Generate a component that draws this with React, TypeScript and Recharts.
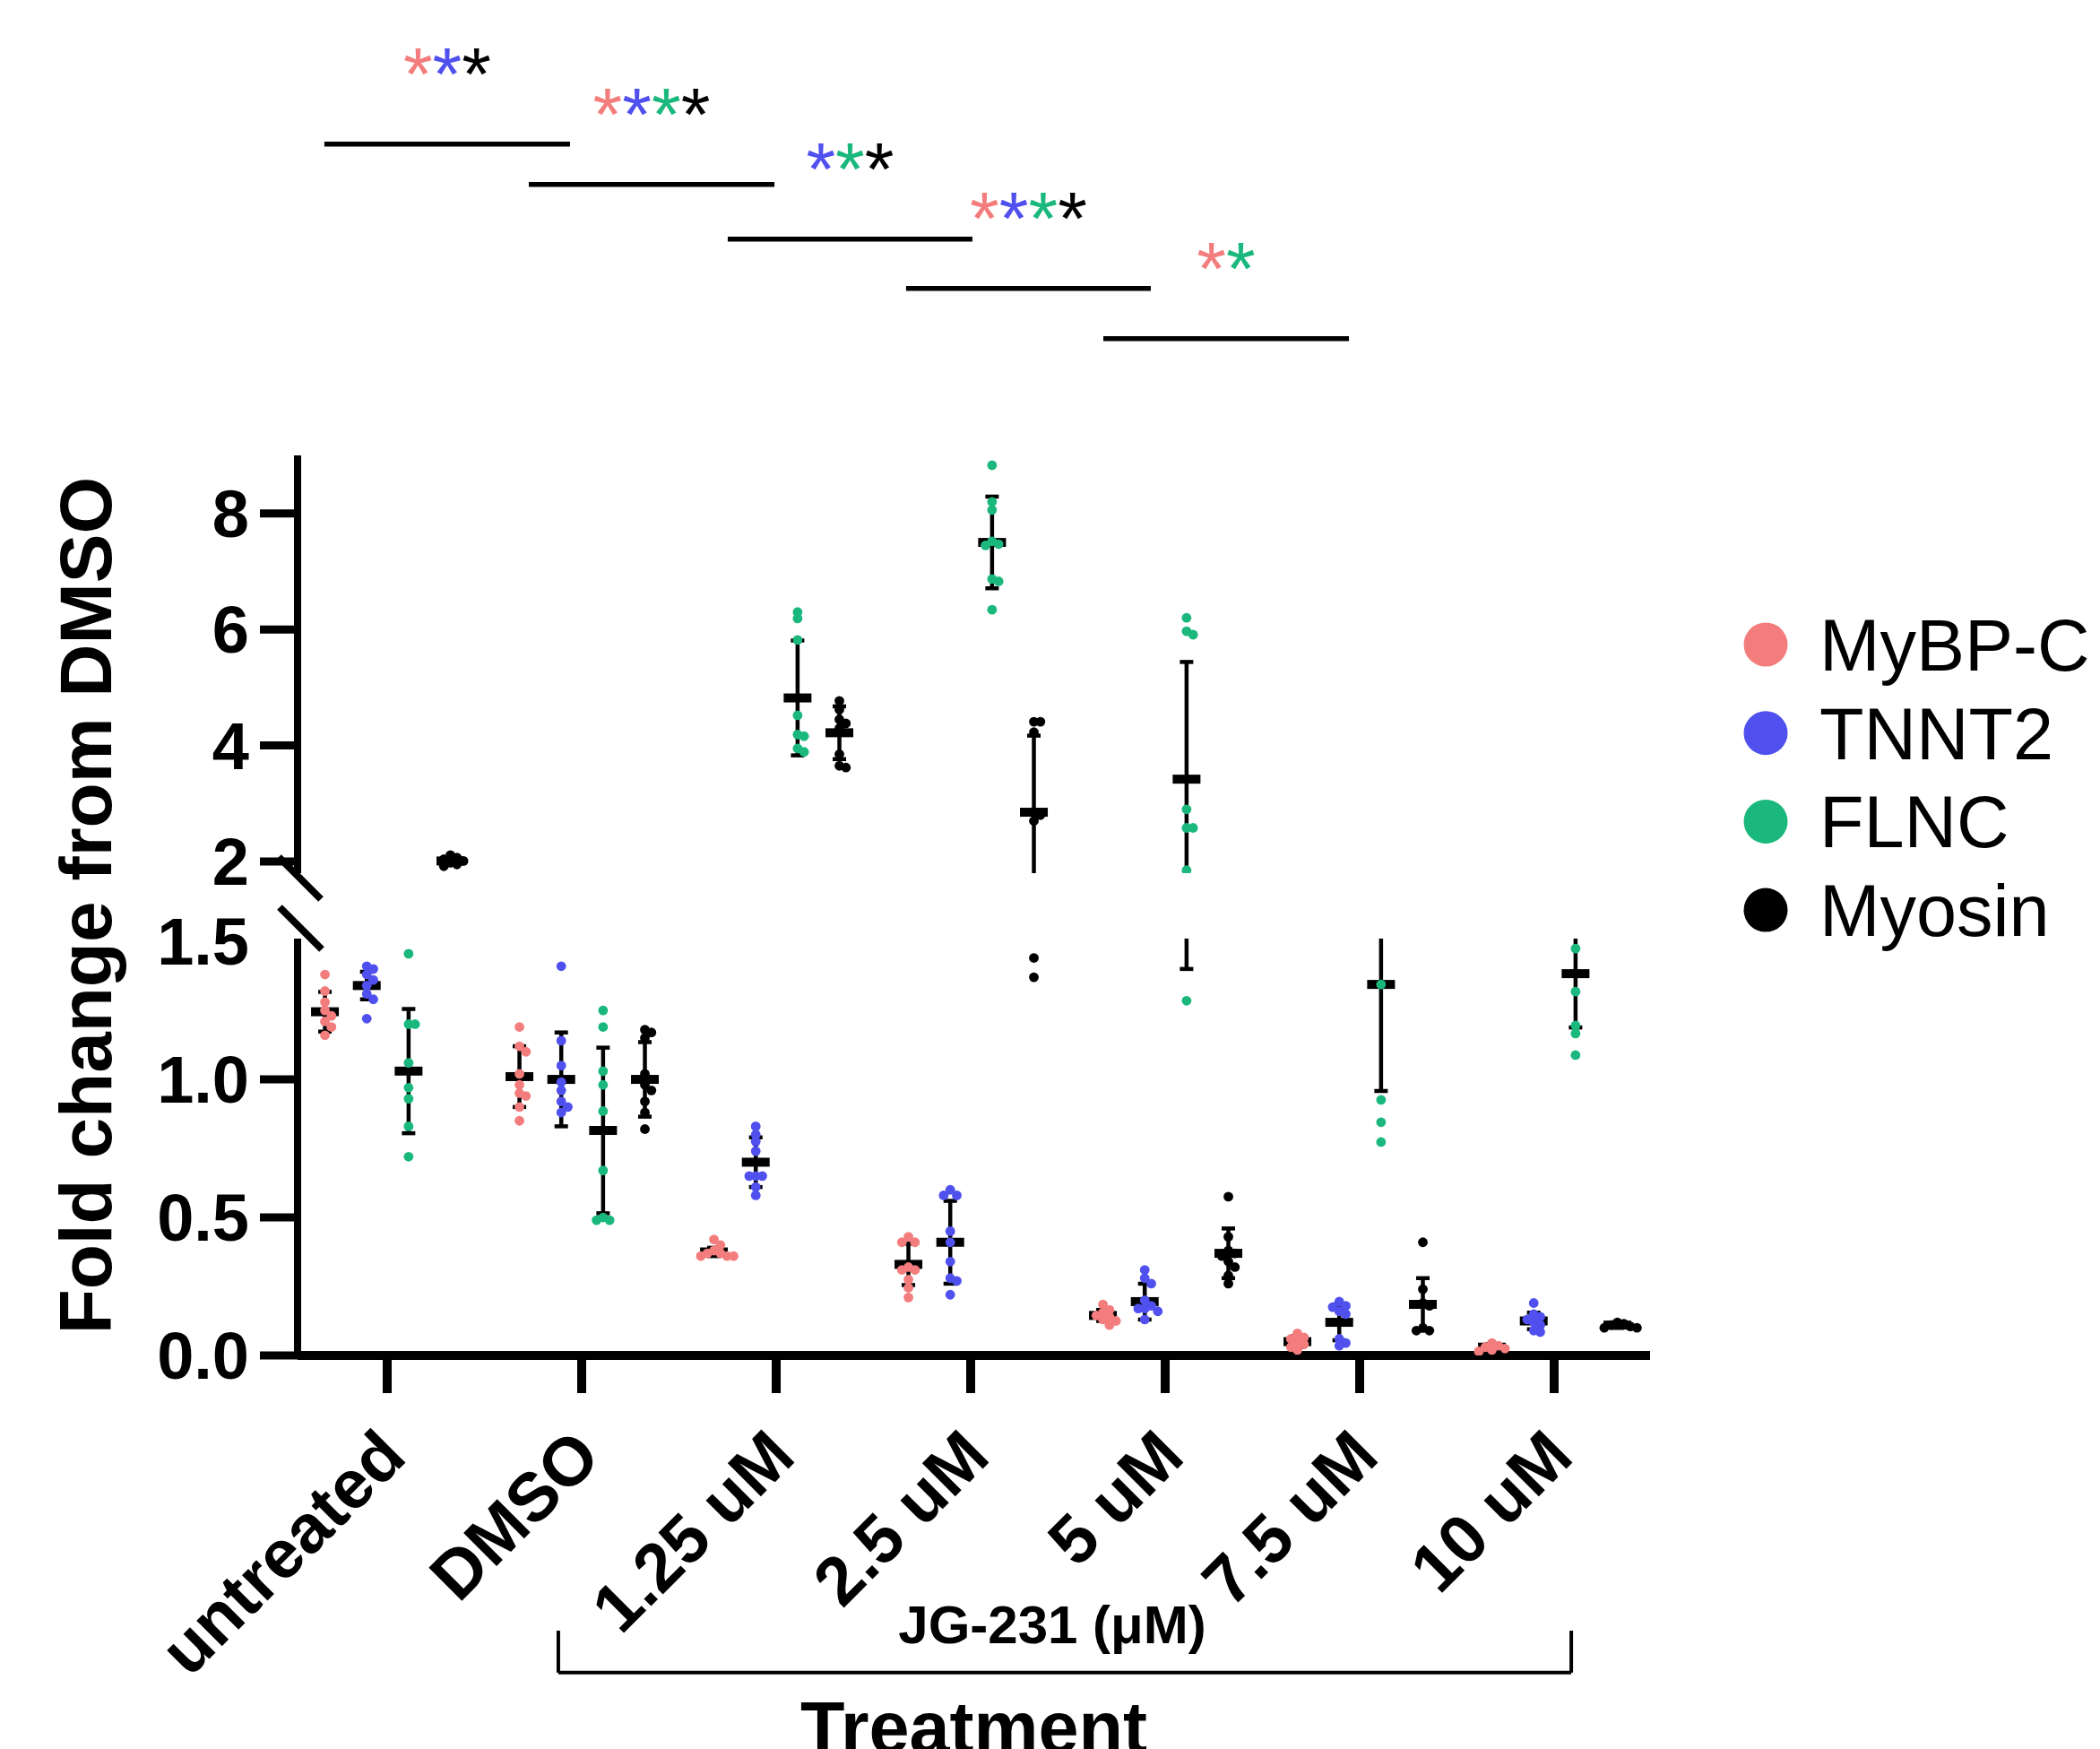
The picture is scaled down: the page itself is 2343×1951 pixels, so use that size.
import React from 'react';
import { ComposedChart, Scatter, XAxis, YAxis, ReferenceLine, ReferenceDot, Legend, Label } from 'recharts';

// ---------------- data ----------------
const CATEGORIES = ['untreated', 'DMSO', '1.25 uM', '2.5 uM', '5 uM', '7.5 uM', '10 uM'];
const CATEGORY_POSITIONS = [0, 1, 2, 3, 4, 5, 6];
const SERIES_NAMES = ['MyBP-C', 'TNNT2', 'FLNC', 'Myosin'];
const SERIES_COLORS = ['#F37D7D', '#5050EE', '#1AB87D', '#000000'];
const SERIES_OFFSETS = [-0.32, -0.105, 0.11, 0.325];

const MYBPC_POINTS = [
  [1.38, 1.32, 1.28, 1.25, 1.23, 1.21, 1.19, 1.16],
  [1.19, 1.12, 1.1, 1.02, 0.98, 0.95, 0.94, 0.9, 0.85],
  [0.42, 0.4, 0.38, 0.37, 0.37, 0.36, 0.36, 0.36],
  [0.43, 0.41, 0.41, 0.32, 0.31, 0.31, 0.275, 0.245, 0.21],
  [0.185, 0.165, 0.155, 0.145, 0.14, 0.13, 0.125, 0.11],
  [0.08, 0.065, 0.06, 0.05, 0.04, 0.03, 0.02],
  [0.045, 0.035, 0.03, 0.025, 0.02, 0.015],
];
const MYBPC_MEAN = [1.245, 1.01, 0.375, 0.33, 0.145, 0.05, 0.03];
const MYBPC_SD = [0.072, 0.11, 0.015, 0.075, 0.02, 0.02, 0.01];

const TNNT2_POINTS = [
  [1.41, 1.4, 1.38, 1.36, 1.34, 1.31, 1.29, 1.22],
  [1.41, 1.14, 1.05, 0.99, 0.96, 0.92, 0.9, 0.88],
  [0.83, 0.8, 0.775, 0.74, 0.65, 0.65, 0.65, 0.61, 0.58],
  [0.6, 0.58, 0.58, 0.45, 0.41, 0.34, 0.28, 0.27, 0.22],
  [0.31, 0.28, 0.26, 0.2, 0.18, 0.17, 0.17, 0.16, 0.13],
  [0.195, 0.18, 0.175, 0.16, 0.15, 0.06, 0.045, 0.035],
  [0.19, 0.15, 0.14, 0.13, 0.12, 0.11, 0.09, 0.085],
];
const TNNT2_MEAN = [1.34, 1.0, 0.7, 0.41, 0.195, 0.12, 0.125];
const TNNT2_SD = [0.05, 0.17, 0.09, 0.15, 0.065, 0.065, 0.03];

const FLNC_POINTS = [
  [1.455, 1.2, 1.2, 1.06, 0.97, 0.93, 0.83, 0.72],
  [1.25, 1.19, 1.03, 0.98, 0.885, 0.67, 0.5, 0.49, 0.49],
  [6.3, 6.19, 5.82, 4.52, 4.19, 4.16, 3.95, 3.89],
  [8.83, 8.2, 8.06, 7.52, 7.47, 7.45, 6.87, 6.83, 6.34],
  [6.2, 5.97, 5.91, 2.9, 2.58, 2.58, 1.85, 1.285],
  [1.344, 0.926, 0.845, 0.773],
  [1.474, 1.318, 1.195, 1.166, 1.088],
];
const FLNC_MEAN = [1.03, 0.815, 4.82, 7.5, 3.42, 1.344, 1.383];
const FLNC_SD = [0.225, 0.3, 0.99, 0.79, 2.02, 0.386, 0.195];

const MYOSIN_POINTS = [
  [2.11, 2.07, 2.04, 2.01, 1.98, 1.95, 1.92],
  [1.18, 1.17, 1.15, 1.02, 0.98, 0.96, 0.92, 0.88, 0.82],
  [4.77, 4.62, 4.45, 4.38, 4.3, 3.85, 3.65, 3.62],
  [4.41, 4.41, 4.23, 2.85, 2.8, 2.7, 1.44, 1.37],
  [0.575, 0.43, 0.38, 0.37, 0.36, 0.34, 0.32, 0.29, 0.26],
  [0.41, 0.24, 0.19, 0.18, 0.1, 0.09, 0.09],
  [0.12, 0.115, 0.11, 0.105, 0.1, 0.1],
];
const MYOSIN_MEAN = [2.01, 1.0, 4.22, 2.85, 0.37, 0.185, 0.11];
const MYOSIN_SD = [0.06, 0.135, 0.455, 1.32, 0.09, 0.095, 0.01];

const LOWER_TICKS = [0, 0.5, 1.0, 1.5];
const UPPER_TICKS = [2, 4, 6, 8];

// significance comparisons (drawn above the upper panel)
const COMPARISON_START = [-0.323, 0.728, 1.751, 2.668, 3.682];
const COMPARISON_END = [0.94, 1.991, 3.009, 3.926, 4.945];
const COMPARISON_LEVEL = [14.365, 13.669, 12.726, 11.876, 11.011];
const COMPARISON_STARS = [
  ['MyBP-C', 'TNNT2', 'Myosin'],
  ['MyBP-C', 'TNNT2', 'FLNC', 'Myosin'],
  ['TNNT2', 'FLNC', 'Myosin'],
  ['MyBP-C', 'TNNT2', 'FLNC', 'Myosin'],
  ['MyBP-C', 'FLNC'],
];
const STAR_RISE = 1.5;

// JG-231 bracket under the axis (lower-panel data units)
const BRACKET_FROM = 0.88;
const BRACKET_TO = 6.088;
const BRACKET_BOTTOM = -1.149;
const BRACKET_TOP = -0.997;
const BRACKET_LABEL = 'JG-231 (μM)';
const X_TITLE = 'Treatment';
const Y_TITLE = 'Fold change from DMSO';

// ---------------- layout ----------------
const W = 2343;
const H = 1951;
const FONT = '"Liberation Sans", Arial, Helvetica, sans-serif';
const PLOT_LEFT = 332;
const PLOT_RIGHT = 1841;
const X_DOMAIN: [number, number] = [-0.4608, 6.4931];
const UPPER_DOMAIN: [number, number] = [1.8, 9.0];
const UPPER_TOP = 508;
const UPPER_BOTTOM = 974;
const LOWER_DOMAIN: [number, number] = [0, 1.51];
const LOWER_TOP = 1047;
const LOWER_BOTTOM = 1512;
const Y_TICK_LEN = 42;
const Y_TICK_MARGIN = 12;
const SPLIT = 1.65;
const DOT_R = 5.4;
const CAP_HALF_PX = 7.5;

const PX_PER_X = (PLOT_RIGHT - PLOT_LEFT) / (X_DOMAIN[1] - X_DOMAIN[0]);
const UPPER_PX_PER_Y = (UPPER_BOTTOM - UPPER_TOP) / (UPPER_DOMAIN[1] - UPPER_DOMAIN[0]);
const LOWER_PX_PER_Y = (LOWER_BOTTOM - LOWER_TOP) / (LOWER_DOMAIN[1] - LOWER_DOMAIN[0]);
const CAP_HALF = CAP_HALF_PX / PX_PER_X;

const ALL_POINTS = [MYBPC_POINTS, TNNT2_POINTS, FLNC_POINTS, MYOSIN_POINTS];
const ALL_MEANS = [MYBPC_MEAN, TNNT2_MEAN, FLNC_MEAN, MYOSIN_MEAN];
const ALL_SDS = [MYBPC_SD, TNNT2_SD, FLNC_SD, MYOSIN_SD];

// deterministic beeswarm: spreads overlapping dots sideways (dots may overlap partly)
function swarmOffsets(values: number[], pxPerY: number): number[] {
  const step = DOT_R * 1.35;
  const minDist = DOT_R * 1.2;
  const placed: { dx: number; y: number }[] = [];
  return values.map((v) => {
    const y = v * pxPerY;
    for (let k = 0; k < 30; k++) {
      const cand = k === 0 ? 0 : (k % 2 === 1 ? (k + 1) / 2 : -k / 2) * step;
      if (placed.every((p) => Math.hypot(p.dx - cand, p.y - y) >= minDist)) {
        placed.push({ dx: cand, y });
        return cand;
      }
    }
    return 0;
  });
}

function panelPoints(s: number, upper: boolean) {
  const pxY = upper ? UPPER_PX_PER_Y : LOWER_PX_PER_Y;
  const out: { x: number; y: number }[] = [];
  ALL_POINTS[s].forEach((vals, ci) => {
    const sel = vals.filter((v) => (upper ? v >= SPLIT : v < SPLIT));
    const offs = swarmOffsets(sel, pxY);
    sel.forEach((v, k) => {
      out.push({ x: CATEGORY_POSITIONS[ci] + SERIES_OFFSETS[s] + offs[k] / PX_PER_X, y: v });
    });
  });
  return out;
}

function meanData(s: number) {
  return CATEGORIES.map((_, ci) => ({
    x: CATEGORY_POSITIONS[ci] + SERIES_OFFSETS[s],
    y: ALL_MEANS[s][ci],
    lo: ALL_MEANS[s][ci] - ALL_SDS[s][ci],
    hi: ALL_MEANS[s][ci] + ALL_SDS[s][ci],
  }));
}

const MeanShape = (p: any) => (
  <rect x={p.cx - 15.5} y={p.cy - 5} width={31} height={10} fill="#000" />
);
const dotShape = (color: string) => (p: any) => (
  <circle cx={p.cx} cy={p.cy} r={DOT_R} fill={color} />
);

// SD bars as clipped reference segments (clipped to each panel's plot area)
function renderErrorBars() {
  const out: React.ReactNode[] = [];
  SERIES_NAMES.forEach((name, s) => {
    meanData(s).forEach((d, ci) => {
      const k = `${name}-${ci}`;
      out.push(
        <ReferenceLine
          key={`v-${k}`}
          segment={[{ x: d.x, y: d.lo }, { x: d.x, y: d.hi }]}
          stroke="#000"
          strokeWidth={4.5}
          ifOverflow="hidden"
        />,
        <ReferenceLine
          key={`l-${k}`}
          segment={[{ x: d.x - CAP_HALF, y: d.lo }, { x: d.x + CAP_HALF, y: d.lo }]}
          stroke="#000"
          strokeWidth={4.5}
          ifOverflow="hidden"
        />,
        <ReferenceLine
          key={`h-${k}`}
          segment={[{ x: d.x - CAP_HALF, y: d.hi }, { x: d.x + CAP_HALF, y: d.hi }]}
          stroke="#000"
          strokeWidth={4.5}
          ifOverflow="hidden"
        />
      );
    });
  });
  return out;
}

function renderSeries(upper: boolean) {
  const means = SERIES_NAMES.map((name, s) => (
    <Scatter
      key={`mean-${name}`}
      name={`${name} mean`}
      data={meanData(s)}
      dataKey="y"
      shape={MeanShape}
      isAnimationActive={false}
      legendType="none"
    />
  ));
  const points = SERIES_NAMES.map((name, s) => (
    <Scatter
      key={`pts-${name}`}
      name={name}
      data={panelPoints(s, upper)}
      dataKey="y"
      fill={SERIES_COLORS[s]}
      shape={dotShape(SERIES_COLORS[s])}
      isAnimationActive={false}
    />
  ));
  return [...renderErrorBars(), ...means, ...points];
}

// ---------------- axis pieces ----------------
const XTick = (p: any) => {
  const ax = p.x + 24;
  const ay = p.y + 72;
  return (
    <text
      x={ax}
      y={ay}
      transform={`rotate(-45 ${ax} ${ay})`}
      textAnchor="end"
      fontFamily={FONT}
      fontWeight={700}
      fontSize={76}
      fill="#000"
    >
      {CATEGORIES[Math.round(p.payload.value)]}
    </text>
  );
};

const makeYTick = (fmt: (v: number) => string, noLine: number[]) => (p: any) => {
  const v = p.payload.value;
  return (
    <g>
      {!noLine.includes(v) && (
        <line x1={PLOT_LEFT - Y_TICK_LEN} x2={PLOT_LEFT} y1={p.y} y2={p.y} stroke="#000" strokeWidth={9} />
      )}
      <text x={p.x} y={p.y} dy="0.355em" textAnchor="end" fontFamily={FONT} fontWeight={700} fontSize={74} fill="#000">
        {fmt(v)}
      </text>
    </g>
  );
};
const UpperYTick = makeYTick((v) => String(v), []);
const LowerYTick = makeYTick((v) => v.toFixed(1), [1.5]);

const YTitleAndBreak = () => {
  const tx = 124;
  const ty = (UPPER_TOP + LOWER_BOTTOM) / 2;
  return (
    <g>
      <text
        x={tx}
        y={ty}
        transform={`rotate(-90 ${tx} ${ty})`}
        textAnchor="middle"
        fontFamily={FONT}
        fontWeight={700}
        fontSize={82}
        fill="#000"
      >
        {Y_TITLE}
      </text>
      <line x1={311} y1={956} x2={358} y2={1003} stroke="#000" strokeWidth={8} />
      <line x1={312} y1={1012} x2={359} y2={1059} stroke="#000" strokeWidth={8} />
    </g>
  );
};

const XTitle = (p: any) => {
  const vb = p.viewBox;
  return (
    <text x={vb.x + vb.width / 2} y={vb.y + 443} textAnchor="middle" fontFamily={FONT} fontWeight={700} fontSize={81} fill="#000">
      {X_TITLE}
    </text>
  );
};

const BracketLabel = (p: any) => {
  const vb = p.viewBox;
  return (
    <text x={vb.x + vb.width / 2 - 14} y={vb.y - 33} textAnchor="middle" fontFamily={FONT} fontWeight={700} fontSize={60} fill="#000">
      {BRACKET_LABEL}
    </text>
  );
};

const starLabel = (stars: string[]) => (p: any) => {
  const vb = p.viewBox;
  const cx = vb.x + (vb.width || 0) / 2;
  const cy = vb.y + (vb.height || 0) / 2;
  return (
    <text x={cx} y={cy + 48} textAnchor="middle" fontFamily={FONT} fontSize={84}>
      {stars.map((s, i) => (
        <tspan key={i} fill={SERIES_COLORS[SERIES_NAMES.indexOf(s)]}>
          *
        </tspan>
      ))}
    </text>
  );
};

const LegendBox = () => (
  <svg width={413} height={420} style={{ display: 'block' }}>
    {SERIES_NAMES.map((n, i) => {
      const cy = 59 + i * 98.7;
      return (
        <g key={n}>
          <circle cx={40} cy={cy} r={24.5} fill={SERIES_COLORS[i]} />
          <text x={100} y={cy + 29} fontFamily={FONT} fontSize={81} fill="#000">
            {n}
          </text>
        </g>
      );
    })}
  </svg>
);

export default function App() {
  return (
    <div style={{ position: 'absolute', left: 0, top: 0, width: W, height: H, background: '#fff', overflow: 'hidden' }}>
      <div style={{ position: 'absolute', left: 0, top: 0 }}>
        <ComposedChart
          width={W}
          height={H}
          margin={{ top: UPPER_TOP, bottom: H - UPPER_BOTTOM, left: 0, right: W - PLOT_RIGHT }}
        >
          <XAxis dataKey="x" type="number" domain={X_DOMAIN} allowDataOverflow hide />
          <YAxis
            dataKey="y"
            type="number"
            domain={UPPER_DOMAIN}
            allowDataOverflow
            ticks={UPPER_TICKS}
            interval={0}
            width={PLOT_LEFT}
            tickSize={Y_TICK_LEN}
            tickMargin={Y_TICK_MARGIN}
            axisLine={{ stroke: '#000', strokeWidth: 8 }}
            tickLine={false}
            tick={<UpperYTick />}
            label={<Label content={<YTitleAndBreak />} />}
          />
          {renderSeries(true)}
          {COMPARISON_LEVEL.map((lvl, i) => (
            <ReferenceLine
              key={`cmp-${i}`}
              segment={[
                { x: COMPARISON_START[i], y: lvl },
                { x: COMPARISON_END[i], y: lvl },
              ]}
              stroke="#000"
              strokeWidth={5.5}
              ifOverflow="visible"
            />
          ))}
          {COMPARISON_LEVEL.map((lvl, i) => (
            <ReferenceDot
              key={`stars-${i}`}
              x={(COMPARISON_START[i] + COMPARISON_END[i]) / 2}
              y={lvl + STAR_RISE}
              r={0}
              fill="none"
              stroke="none"
              ifOverflow="visible"
              label={<Label content={starLabel(COMPARISON_STARS[i])} />}
            />
          ))}
          <Legend
            layout="vertical"
            align="center"
            verticalAlign="middle"
            wrapperStyle={{ left: 1930, top: 660, width: 413, height: 420 }}
            content={() => <LegendBox />}
          />
        </ComposedChart>
      </div>
      <div style={{ position: 'absolute', left: 0, top: 0 }}>
        <ComposedChart
          width={W}
          height={H}
          margin={{ top: LOWER_TOP, bottom: 0, left: 0, right: W - PLOT_RIGHT }}
        >
          <XAxis
            dataKey="x"
            type="number"
            domain={X_DOMAIN}
            allowDataOverflow
            ticks={CATEGORY_POSITIONS}
            interval={0}
            height={H - LOWER_BOTTOM}
            tickSize={42}
            tickMargin={2}
            axisLine={{ stroke: '#000', strokeWidth: 10 }}
            tickLine={{ stroke: '#000', strokeWidth: 10 }}
            tick={<XTick />}
            label={<Label content={<XTitle />} />}
          />
          <YAxis
            dataKey="y"
            type="number"
            domain={LOWER_DOMAIN}
            allowDataOverflow
            ticks={LOWER_TICKS}
            interval={0}
            width={PLOT_LEFT}
            tickSize={Y_TICK_LEN}
            tickMargin={Y_TICK_MARGIN}
            axisLine={{ stroke: '#000', strokeWidth: 8 }}
            tickLine={false}
            tick={<LowerYTick />}
          />
          {renderSeries(false)}
          <ReferenceLine
            segment={[
              { x: BRACKET_FROM, y: BRACKET_BOTTOM },
              { x: BRACKET_TO, y: BRACKET_BOTTOM },
            ]}
            stroke="#000"
            strokeWidth={4}
            ifOverflow="visible"
            label={<Label content={<BracketLabel />} />}
          />
          <ReferenceLine
            segment={[
              { x: BRACKET_FROM, y: BRACKET_BOTTOM },
              { x: BRACKET_FROM, y: BRACKET_TOP },
            ]}
            stroke="#000"
            strokeWidth={4}
            ifOverflow="visible"
          />
          <ReferenceLine
            segment={[
              { x: BRACKET_TO, y: BRACKET_BOTTOM },
              { x: BRACKET_TO, y: BRACKET_TOP },
            ]}
            stroke="#000"
            strokeWidth={4}
            ifOverflow="visible"
          />
        </ComposedChart>
      </div>
    </div>
  );
}
